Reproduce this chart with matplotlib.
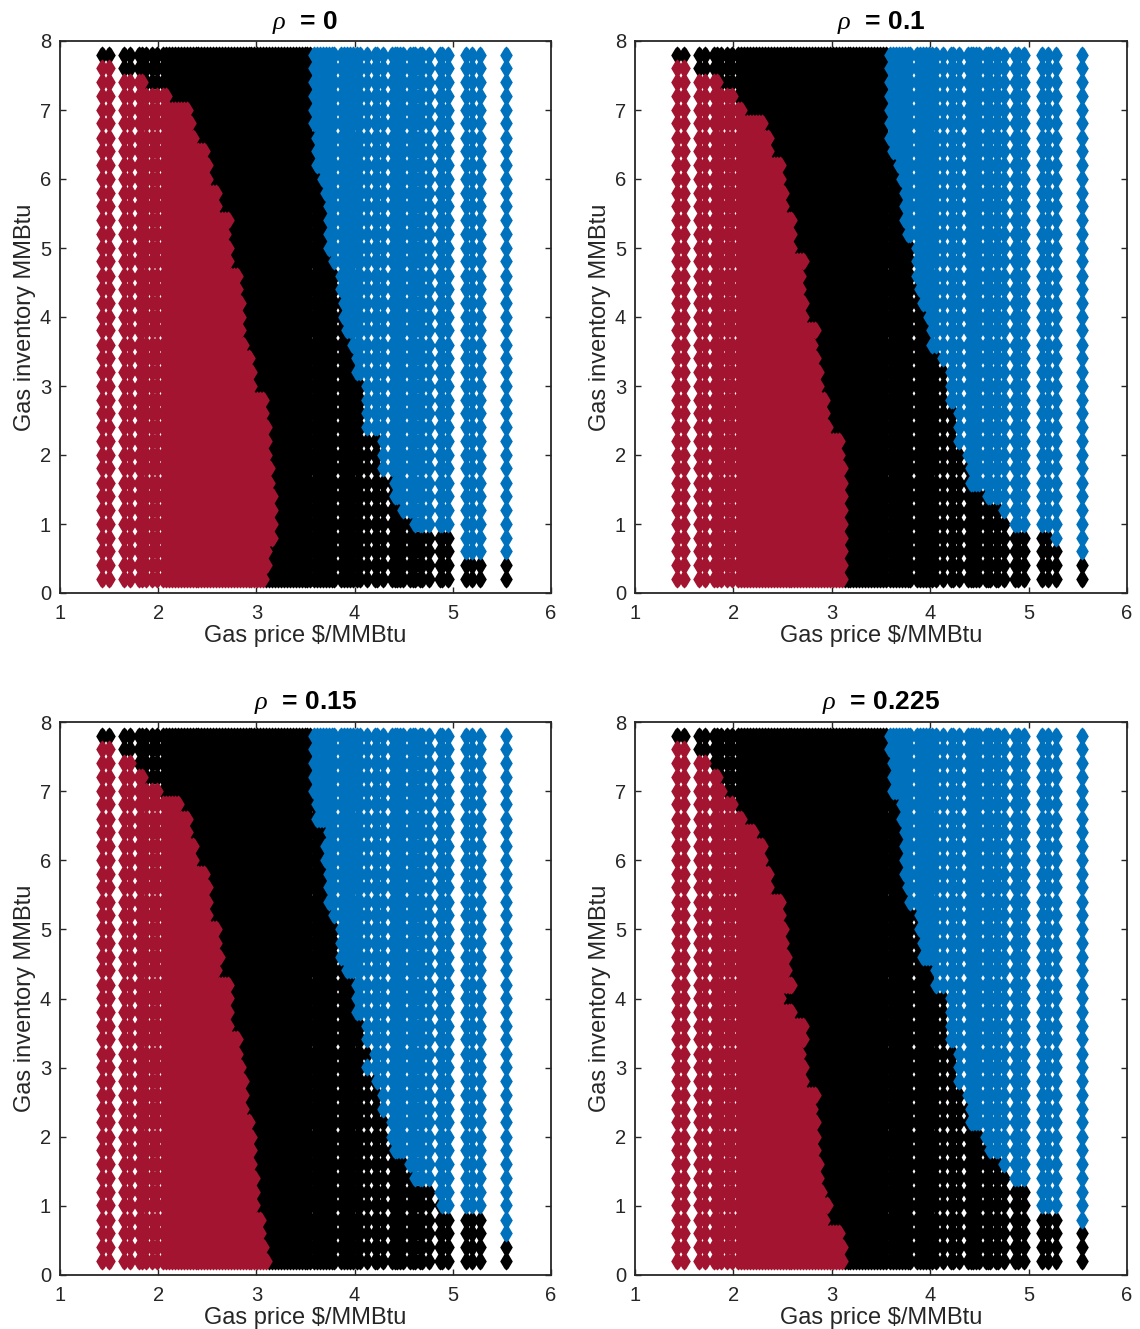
import matplotlib
matplotlib.use("Agg")
import matplotlib.pyplot as plt
from matplotlib.path import Path

plt.rcParams['font.family'] = ['Liberation Sans', 'DejaVu Sans']
plt.rcParams['mathtext.fontset'] = 'custom'
plt.rcParams['mathtext.rm'] = 'Liberation Sans'
plt.rcParams['mathtext.it'] = 'Liberation Serif:italic'
plt.rcParams['mathtext.bf'] = 'Liberation Sans:bold'

prices = [1.425,1.495,1.655,1.715,1.80,1.835,1.875,1.935,1.99,2.05,
          2.08,2.11,2.14,2.17,2.20,2.23,2.26,2.29,2.32,2.35,2.38,2.41,2.44,2.47,2.50,2.53,2.56,2.59,2.62,2.65,
          2.68,2.71,2.74,2.77,2.80,2.83,2.86,2.89,2.92,2.95,2.98,3.01,3.04,3.07,3.10,3.13,3.16,3.19,3.22,3.25,
          3.28,3.31,3.34,3.37,3.40,3.43,3.46,3.49,3.52,3.55,3.59,3.62,3.65,3.68,3.71,3.74,3.77,3.795,3.865,
          3.895,3.925,3.955,3.985,4.02,4.055,4.125,4.21,4.23,4.29,4.385,4.41,4.435,4.465,4.495,4.565,4.59,4.6125,
          4.6675,4.685,4.755,4.865,4.89,4.95,5.135,5.195,5.28,5.54]
inventory = [7.80,7.607,7.40,7.207,7.00,6.807,6.60,6.407,6.20,6.007,5.80,5.607,5.40,5.207,5.00,4.807,4.60,4.407,4.20,4.007,
             3.807,3.60,3.407,3.20,3.007,2.80,2.607,2.40,2.207,2.00,1.807,1.60,1.407,1.20,1.007,0.80,0.607,0.40,0.207]

rho_labels = ['0', '0.1', '0.15', '0.225']

# highest price still red in each inventory row
red_edge_0 = [0,1.52,1.855,2.086,2.30,2.33,2.36,2.48,2.50,2.51,2.59,2.59,2.70,2.69,2.72,2.71,2.81,2.81,2.84,2.83,
              2.83,2.87,2.92,2.94,2.94,3.06,3.06,3.10,3.10,3.10,3.12,3.14,3.155,3.165,3.155,3.15,3.10,3.10,3.06]
red_edge_1 = [0,1.52,1.845,2.00,2.09,2.29,2.34,2.335,2.47,2.48,2.51,2.50,2.59,2.59,2.60,2.71,2.68,2.69,2.72,2.72,
              2.82,2.81,2.83,2.845,2.855,2.93,2.93,2.94,3.06,3.06,3.10,3.11,3.10,3.10,3.11,3.10,3.11,3.10,3.10]
red_edge_2 = [0,1.52,1.78,1.855,2.00,2.19,2.28,2.29,2.335,2.345,2.46,2.50,2.50,2.50,2.59,2.59,2.61,2.60,2.70,2.70,
              2.71,2.72,2.81,2.81,2.84,2.85,2.86,2.86,2.92,2.95,2.95,2.955,2.965,2.97,2.965,3.05,3.05,3.08,3.10]
red_edge_3 = [0,1.52,1.72,1.84,1.89,1.99,2.086,2.19,2.30,2.29,2.34,2.345,2.46,2.46,2.50,2.51,2.52,2.52,2.59,2.48,
              2.60,2.71,2.70,2.69,2.72,2.72,2.82,2.81,2.83,2.84,2.83,2.85,2.87,2.88,2.94,2.93,3.06,3.10,3.10]

# lowest price that is blue in each inventory row
blue_edge_0 = [3.59,3.59,3.59,3.58,3.59,3.60,3.61,3.61,3.62,3.69,3.72,3.74,3.74,3.74,3.74,3.79,3.865,3.865,3.89,3.90,
               3.93,4.00,4.02,4.03,4.08,4.12,4.13,4.14,4.25,4.25,4.25,4.40,4.42,4.49,4.61,5.1,5.1,9,9]
blue_edge_1 = [3.60,3.60,3.59,3.59,3.60,3.60,3.60,3.61,3.69,3.70,3.74,3.745,3.745,3.77,3.82,3.88,3.88,3.89,3.92,3.99,
               4.02,4.03,4.08,4.15,4.15,4.15,4.25,4.25,4.25,4.355,4.40,4.41,4.59,4.72,4.80,5.25,5.4,9,9]
blue_edge_2 = [3.59,3.60,3.59,3.59,3.59,3.61,3.62,3.73,3.70,3.71,3.74,3.745,3.75,3.80,3.87,3.88,3.88,3.92,4.03,4.02,
               4.03,4.07,4.13,4.15,4.14,4.245,4.25,4.25,4.355,4.39,4.41,4.53,4.62,4.82,4.90,5.4,5.4,9,9]
blue_edge_3 = [3.60,3.60,3.61,3.61,3.62,3.70,3.70,3.73,3.745,3.75,3.75,3.78,3.80,3.89,3.91,3.94,3.92,4.045,4.04,4.16,
               4.15,4.15,4.15,4.25,4.26,4.25,4.355,4.41,4.41,4.53,4.61,4.72,4.82,4.98,5.1,5.4,9,9,9]

red_edges = [red_edge_0, red_edge_1, red_edge_2, red_edge_3]
blue_edges = [blue_edge_0, blue_edge_1, blue_edge_2, blue_edge_3]

RED, BLUE, BLACK, INK = '#A2142F', '#0072BD', '#000000', '#262626'
W, H = 1140, 1329
boxes = [(60, 41, 551, 593), (635, 41, 1127, 593), (60, 722, 551, 1275), (635, 722, 1127, 1275)]

# blunt diamond: tip half-width 6.3 px, waist half-width 2.2 px at 6.9 px, top at 9 px
tw, nw, nh = 0.70, 0.244, 0.767
diamond = Path([(0, 1), (nw, nh), (tw, 0), (nw, -nh), (0, -1), (-nw, -nh), (-tw, 0), (-nw, nh), (0, 1)], closed=True)

fig = plt.figure(figsize=(W / 100, H / 100), dpi=100)
for i, (x0, y0, x1, y1) in enumerate(boxes):
    ax = fig.add_axes([x0 / W, 1 - y1 / H, (x1 - x0) / W, (y1 - y0) / H])
    groups = {BLACK: ([], []), RED: ([], []), BLUE: ([], [])}
    for row, y in enumerate(inventory):
        for x in prices:
            if x <= red_edges[i][row] + 0.015:
                c = RED
            elif x >= blue_edges[i][row] - 0.015:
                c = BLUE
            else:
                c = BLACK
            groups[c][0].append(x)
            groups[c][1].append(y)
    for c in (BLACK, RED, BLUE):
        ax.plot(groups[c][0], groups[c][1], ls='none', marker=diamond, ms=12.96,
                mfc=c, mec=c, mew=0)
    ax.set_xlim(1, 6)
    ax.set_ylim(0, 8)
    ax.set_xticks([1, 2, 3, 4, 5, 6])
    ax.set_yticks(range(0, 9))
    ax.tick_params(direction='in', top=True, right=True, length=4.0, width=1.0,
                   color=INK, labelcolor=INK, labelsize=14.5)
    ax.tick_params(axis='x', pad=8)
    ax.tick_params(axis='y', pad=6.5)
    for s in ax.spines.values():
        s.set_linewidth(1.3)
        s.set_color(INK)
    ax.set_xlabel(r'Gas price \$/MMBtu', fontsize=17, color=INK, labelpad=1.5)
    ax.set_ylabel('Gas inventory MMBtu', fontsize=17, color=INK, labelpad=3)
    ax.set_title(r'$\rho$  = ' + rho_labels[i], fontsize=19, fontweight='bold', color='#000000', pad=9)

fig.savefig('out.png', dpi=100)
